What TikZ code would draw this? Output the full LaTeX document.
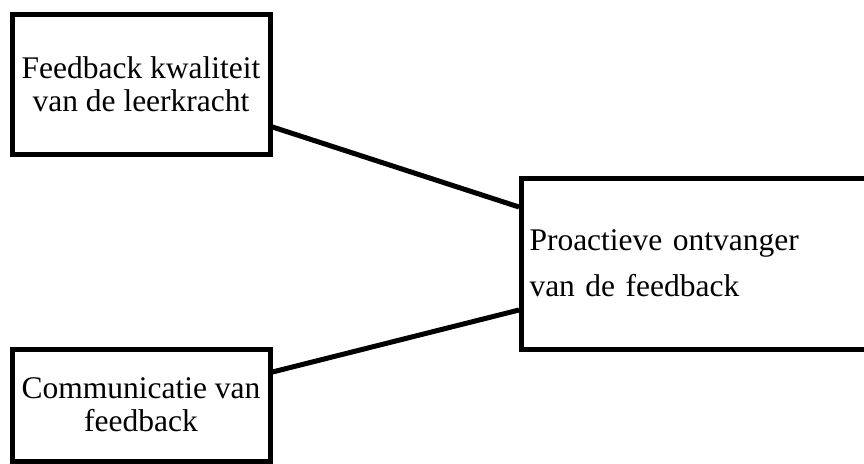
\documentclass[tikz,border=0pt]{standalone}
\usepackage{fontspec}
\setmainfont{Liberation Serif}
\usetikzlibrary{calc}
\begin{document}
\begin{tikzpicture}[x=1pt,y=-1pt,
  boxstyle/.style={draw=black,line width=5pt,fill=white,inner sep=0pt,
    font=\fontsize{31.5}{33}\selectfont},
  linkstyle/.style={draw=black,line width=5pt}]
\useasboundingbox (0,0) rectangle (864,463);
\clip (0,0) rectangle (864,463);
\node[boxstyle,minimum width=258pt,minimum height=140pt,align=center] (b1) at (141,84)
  {Feedback kwaliteit\\van de leerkracht};
\node[boxstyle,minimum width=258pt,minimum height=112pt,align=center] (b2) at (141,405)
  {Communicatie van\\feedback};
\node[boxstyle,font=\fontsize{31.5}{46}\selectfont,minimum height=171pt,align=left,
  text width=335pt,inner xsep=8pt,anchor=west] (b3) at (519,263.5)
  {Proactieve ontvanger\\van de feedback};
\draw[linkstyle] ($(b1.east)+(0,43)$) -- ($(b3.west)+(0,-56.5)$);
\draw[linkstyle] ($(b2.east)+(0,-33)$) -- ($(b3.west)+(0,46.5)$);
\end{tikzpicture}
\end{document}
